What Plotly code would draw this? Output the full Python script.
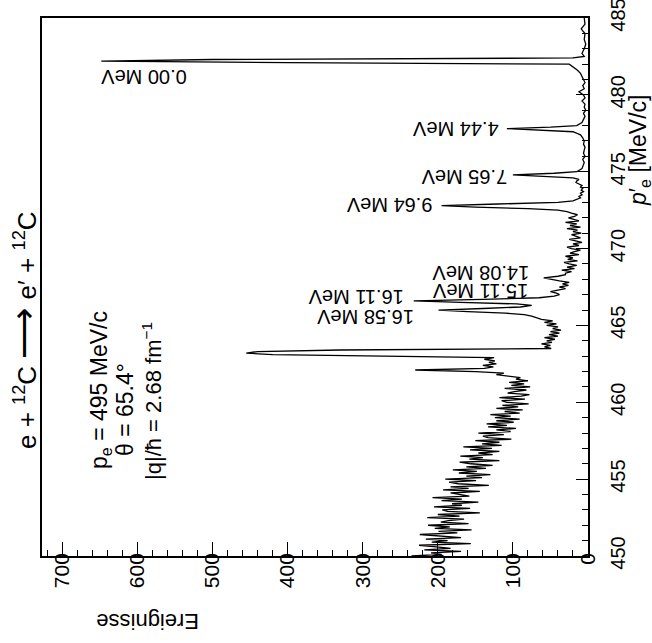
import plotly.graph_objects as go

# ---------------- data ----------------
p_noise = [round(450.0 + 0.1 * i, 1) for i in range(117)]  # 450.0 ... 461.6 bin centres
c_noise = [235, 195, 209, 169, 218, 183, 202, 225, 156, 208,
           187, 216, 169, 196, 224, 174, 199, 155, 204, 184,
           213, 159, 196, 186, 165, 214, 171, 200, 144, 187,
           194, 157, 205, 168, 181, 146, 195, 168, 207, 158,
           169, 183, 144, 193, 159, 183, 132, 173, 185, 149,
           190, 141, 162, 130, 172, 148, 180, 136, 162, 127,
           156, 171, 118, 158, 140, 170, 127, 146, 118, 157,
           128, 166, 115, 141, 118, 150, 102, 133, 140, 112,
           146, 103, 122, 96, 133, 108, 135, 99, 122, 91,
           124, 103, 130, 91, 111, 87, 122, 93, 114, 79,
           108, 115, 84, 118, 89, 78, 107, 98, 82, 111,
           77, 102, 85, 105, 80, 96, 90]

p_peaks = [461.7, 461.8, 461.9, 462.0, 462.1, 462.2, 462.3, 462.4, 462.5, 462.6,
           462.7, 462.8, 462.9, 463.0, 463.1, 463.2, 463.3, 463.4, 463.5, 463.6,
           463.7, 463.8, 463.9, 464.0, 464.1, 464.2, 464.3, 464.4, 464.5, 464.6,
           464.7, 464.8, 464.9, 465.0, 465.1, 465.2, 465.3, 465.4, 465.5, 465.6,
           465.7, 465.8, 465.9, 466.0, 466.1, 466.2, 466.3, 466.4, 466.5, 466.6,
           466.7, 466.8, 466.9, 467.0, 467.1, 467.2, 467.3, 467.4, 467.5, 467.6,
           467.7, 467.8, 467.9, 468.0, 468.1, 468.2, 468.3, 468.4, 468.5, 468.6,
           468.7, 468.8, 468.9, 469.0, 469.1, 469.2, 469.3, 469.4, 469.5, 469.6,
           469.7, 469.8, 469.9, 470.0, 470.1, 470.2, 470.3, 470.4, 470.5, 470.6,
           470.7, 470.8, 470.9, 471.0, 471.1, 471.2, 471.3, 471.4, 471.5, 471.6,
           471.7, 471.8, 471.9, 472.0, 472.1, 472.2, 472.3, 472.4, 472.5, 472.6,
           472.7, 472.8, 472.9, 473.0, 473.1, 473.2, 473.3, 473.4, 473.5, 473.6,
           473.7, 473.8, 473.9, 474.0, 474.1, 474.2, 474.3, 474.4, 474.5, 474.6,
           474.7, 474.8, 474.9, 475.0, 475.2, 475.4, 475.6, 475.8, 476.0, 476.2,
           476.4, 476.6, 476.8, 477.0, 477.2, 477.4, 477.6, 477.7, 477.8, 477.9,
           478.0, 478.2, 478.4, 478.6, 478.8, 479.0, 479.2, 479.4, 479.6, 479.8,
           480.0, 480.2, 480.4, 480.6, 480.8, 481.0, 481.2, 481.4, 481.6, 481.8,
           482.0, 482.1, 482.2, 482.3, 482.4, 482.5, 482.7, 483.0, 483.3,
           483.6, 484.0, 484.1, 484.3, 484.6, 485.0]
c_peaks = [108, 122, 112, 150, 230, 138, 126, 140, 122, 132,
           124, 138, 125, 300, 420, 455, 440, 330, 49, 58,
           50, 62, 48, 55, 44, 58, 40, 52, 38, 50,
           36, 47, 40, 55, 42, 58, 47, 62, 68, 75,
           85, 110, 160, 199, 140, 90, 75, 95, 170, 232,
           140, 65, 45, 38, 42, 50, 40, 30, 38, 26,
           34, 25, 38, 48, 59, 40, 30, 30, 22, 35,
           18, 28, 15, 25, 32, 14, 27, 20, 30, 12,
           24, 18, 10, 22, 28, 12, 20, 8, 18, 25,
           10, 16, 22, 9, 20, 14, 28, 10, 24, 15,
           30, 12, 20, 26, 18, 14, 22, 28, 40, 80,
           150, 195, 120, 40, 20, 14, 10, 12, 8, 10,
           6, 9, 7, 10, 8, 12, 16, 15, 12, 20,
           60, 100, 45, 15, 8, 6, 5, 7, 4, 6,
           5, 4, 6, 5, 7, 10, 20, 60, 108, 50,
           15, 8, 6, 4, 6, 3, 5, 4, 8, 4,
           6, 12, 5, 7, 4, 6, 8, 10, 14, 20,
           25, 400, 648, 500, 20, 5, 8, 5, 3,
           5, 4, 6, 9, 4, 5, 3]

p_mev = p_noise + p_peaks
counts = c_noise + c_peaks

count_ticks = [0, 100, 200, 300, 400, 500, 600, 700]
p_ticks = [450, 455, 460, 465, 470, 475, 480, 485]

peak_labels = ["0.00 MeV", "4.44 MeV", "7.65 MeV", "9.64 MeV",
               "14.08 MeV", "15.11 MeV", "16.11 MeV", "16.58 MeV"]
# label anchor positions (counts, p) next to the peaks
label_pos = [(592, 481.15), (176, 477.78), (165, 474.66), (264, 472.84),
             (143, 468.41), (143, 467.24), (309, 466.85), (297, 465.55)]

# ---------------- figure ----------------
W, H = 652, 643
L, R, T, B = 42, 64, 18, 87
FONT = "Liberation Sans, Arial, sans-serif"


def paper(xpx, ypx):
    return ((xpx - L) / (W - L - R), (H - B - ypx) / (H - T - B))


fig = go.Figure(go.Scatter(x=counts, y=p_mev, mode="lines",
                           line=dict(color="black", width=1.3),
                           hoverinfo="skip"))

fig.update_layout(template="none", width=W, height=H,
                  margin=dict(l=L, r=R, t=T, b=B, autoexpand=False),
                  paper_bgcolor="white", plot_bgcolor="white",
                  showlegend=False,
                  font=dict(family=FONT, size=20, color="black"))

fig.update_xaxes(range=[727, 0], tickvals=count_ticks, tickangle=-90,
                 automargin=False,
                 ticks="inside", ticklen=14, tickwidth=1.3, tickcolor="black",
                 showline=True, linecolor="black", linewidth=1.5, mirror=True,
                 showgrid=False, zeroline=False,
                 tickfont=dict(family=FONT, size=21), ticklabelstandoff=-13,
                 ticklabeloverflow="allow",
                 minor=dict(dtick=20, ticks="inside", ticklen=6,
                            tickwidth=1, tickcolor="black", showgrid=False))
fig.update_yaxes(range=[450, 485], tickvals=p_ticks, tickangle=-90, side="right",
                 automargin=False,
                 ticks="inside", ticklen=12, tickwidth=1.3, tickcolor="black",
                 showline=True, linecolor="black", linewidth=1.5, mirror=True,
                 showgrid=False, zeroline=False,
                 tickfont=dict(family=FONT, size=20), ticklabelstandoff=11,
                 ticklabeloverflow="allow",
                 minor=dict(dtick=1, ticks="inside", ticklen=6,
                            tickwidth=1, tickcolor="black", showgrid=False))

ann = []
for txt, (cx, py) in zip(peak_labels, label_pos):
    ann.append(dict(x=cx, y=py, xref="x", yref="y", text=txt, showarrow=False,
                    textangle=180, font=dict(family=FONT, size=20),
                    xanchor="center", yanchor="middle"))


def ptext(txt, xpx, ypx, angle, size):
    px, py = paper(xpx, ypx)
    ann.append(dict(x=px, y=py, xref="paper", yref="paper", text=txt,
                    showarrow=False, textangle=angle,
                    font=dict(family=FONT, size=size),
                    xanchor="center", yanchor="middle"))


ptext("e + <sup>12</sup>C <span style='font-size:36px'>⟶</span> e′ + <sup>12</sup>C",
      23, 330, -90, 26)
ptext("p<sub>e</sub> = 495 MeV/c", 100, 390, -90, 23)
ptext("θ = 65.4°", 125, 410, -90, 23)
ptext("|q|/ħ = 2.68 fm<sup>−1</sup>", 152, 401, -90, 22)
ptext("Ereignisse", 148, 621, 180, 22)
ptext("<i>p</i>′<sub>e</sub> [MeV/c]", 639, 150, -90, 23)

fig.update_layout(annotations=ann)
fig.write_html("out.html", config={"displayModeBar": False},
               post_script="document.body.style.margin='0px';")
